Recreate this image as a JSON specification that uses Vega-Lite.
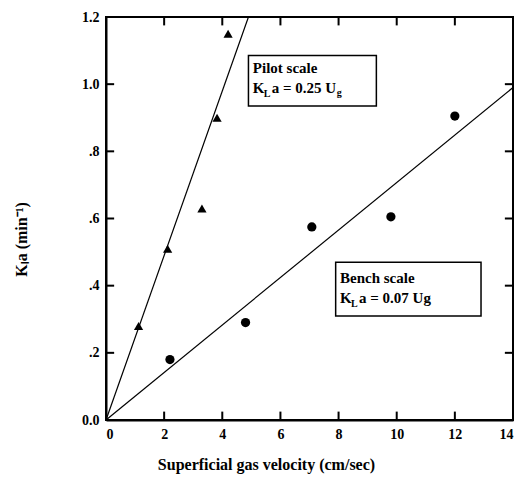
{
  "$schema": "https://vega.github.io/schema/vega-lite/v6.json",
  "width": 407,
  "height": 403,
  "autosize": "none",
  "padding": {"left": 106, "top": 17, "right": 10, "bottom": 57},
  "config": {
    "font": "Liberation Serif",
    "view": {"stroke": "black", "strokeWidth": 2},
    "axis": {
      "labelColor": "black", "labelFont": "Liberation Serif", "labelFontWeight": "bold", "labelFontSize": 14,
      "titleColor": "black", "titleFont": "Liberation Serif", "titleFontWeight": "bold", "titleFontSize": 16,
      "grid": false
    }
  },
  "datasets": {
    "fits": [
      {"series": "Pilot", "x": 0, "y": 0},
      {"series": "Pilot", "x": 4.9, "y": 1.2},
      {"series": "Bench", "x": 0, "y": 0},
      {"series": "Bench", "x": 14, "y": 0.99}
    ],
    "obs": [
      {"series": "Pilot", "x": 1.12, "y": 0.28},
      {"series": "Pilot", "x": 2.12, "y": 0.51},
      {"series": "Pilot", "x": 3.3, "y": 0.63},
      {"series": "Pilot", "x": 3.82, "y": 0.9},
      {"series": "Pilot", "x": 4.2, "y": 1.15},
      {"series": "Bench", "x": 2.2, "y": 0.18},
      {"series": "Bench", "x": 4.8, "y": 0.29},
      {"series": "Bench", "x": 7.08, "y": 0.575},
      {"series": "Bench", "x": 9.8, "y": 0.605},
      {"series": "Bench", "x": 12.0, "y": 0.905}
    ],
    "boxes": [
      {"name": "Pilot", "x": 4.9, "x2": 9.3, "y": 0.935, "y2": 1.085},
      {"name": "Bench", "x": 7.9, "x2": 12.9, "y": 0.31, "y2": 0.47}
    ],
    "lines1": [
      {"x": 5.05, "y": 1.033, "t": "Pilot scale"},
      {"x": 8.05, "y": 0.408, "t": "Bench scale"}
    ],
    "lineK": [
      {"x": 5.05, "y": 0.974, "t": "K"},
      {"x": 8.05, "y": 0.349, "t": "K"}
    ],
    "lineRest": [
      {"x": 5.05, "y": 0.974, "t": "a = 0.25 U"},
      {"x": 8.05, "y": 0.349, "t": "a = 0.07 Ug"}
    ],
    "subL": [
      {"x": 5.05, "y": 0.974, "t": "L"},
      {"x": 8.05, "y": 0.349, "t": "L"}
    ],
    "subG": [
      {"x": 5.05, "y": 0.974, "t": "g"}
    ],
    "xTicksBottom": [
      {"v": 2, "a": 0, "b": 0.025}, {"v": 4, "a": 0, "b": 0.025}, {"v": 6, "a": 0, "b": 0.025},
      {"v": 8, "a": 0, "b": 0.025}, {"v": 10, "a": 0, "b": 0.025}, {"v": 12, "a": 0, "b": 0.025}
    ],
    "xTicksTop": [
      {"v": 2, "a": 1.2, "b": 1.175}, {"v": 4, "a": 1.2, "b": 1.175}, {"v": 6, "a": 1.2, "b": 1.175},
      {"v": 8, "a": 1.2, "b": 1.175}, {"v": 10, "a": 1.2, "b": 1.175}, {"v": 12, "a": 1.2, "b": 1.175}
    ],
    "yTicksLeft": [
      {"v": 0.2, "a": 0, "b": 0.28}, {"v": 0.4, "a": 0, "b": 0.28}, {"v": 0.6, "a": 0, "b": 0.28},
      {"v": 0.8, "a": 0, "b": 0.28}, {"v": 1.0, "a": 0, "b": 0.28}
    ],
    "yTicksRight": [
      {"v": 0.2, "a": 14, "b": 13.72}, {"v": 0.4, "a": 14, "b": 13.72}, {"v": 0.6, "a": 14, "b": 13.72},
      {"v": 0.8, "a": 14, "b": 13.72}, {"v": 1.0, "a": 14, "b": 13.72}
    ]
  },
  "resolve": {"axis": {"x": "independent", "y": "independent"}},
  "layer": [
    {
      "data": {"name": "fits"},
      "mark": {"type": "line", "color": "black", "strokeWidth": 1.2},
      "encoding": {
        "x": {"field": "x", "type": "quantitative", "scale": {"domain": [0, 14], "nice": false},
              "axis": {"orient": "bottom", "values": [0, 2, 4, 6, 8, 10, 12, 14], "ticks": false, "domainColor": "black", "domainWidth": 2, "labelPadding": 7,
                       "title": "Superficial gas velocity (cm/sec)", "titlePadding": 15, "titleX": 160, "titleAlign": "center", "titleAnchor": "start"}},
        "y": {"field": "y", "type": "quantitative", "scale": {"domain": [0, 1.2], "nice": false},
              "axis": {"orient": "left", "values": [0, 0.2, 0.4, 0.6, 0.8, 1.0, 1.2], "ticks": false, "domainColor": "black", "domainWidth": 2, "labelPadding": 7,
                       "labelExpr": "datum.value == 0 ? '0.0' : (datum.value >= 1 ? format(datum.value, '.1f') : replace(format(datum.value, '.1f'), '0.', '.'))",
                       "title": "Kₗa (min⁻¹)", "titlePadding": 52, "titleY": 222}},
        "detail": {"field": "series"}
      }
    },
    {
      "data": {"name": "xTicksBottom"},
      "mark": {"type": "rule", "color": "black", "strokeWidth": 2},
      "encoding": {
        "x": {"field": "v", "type": "quantitative", "axis": null},
        "y": {"field": "a", "type": "quantitative", "axis": null},
        "y2": {"field": "b"}
      }
    },
    {
      "data": {"name": "xTicksTop"},
      "mark": {"type": "rule", "color": "black", "strokeWidth": 2},
      "encoding": {
        "x": {"field": "v", "type": "quantitative", "axis": null},
        "y": {"field": "a", "type": "quantitative", "axis": null},
        "y2": {"field": "b"}
      }
    },
    {
      "data": {"name": "yTicksLeft"},
      "mark": {"type": "rule", "color": "black", "strokeWidth": 2},
      "encoding": {
        "y": {"field": "v", "type": "quantitative", "axis": null},
        "x": {"field": "a", "type": "quantitative", "axis": null},
        "x2": {"field": "b"}
      }
    },
    {
      "data": {"name": "yTicksRight"},
      "mark": {"type": "rule", "color": "black", "strokeWidth": 2},
      "encoding": {
        "y": {"field": "v", "type": "quantitative", "axis": null},
        "x": {"field": "a", "type": "quantitative", "axis": null},
        "x2": {"field": "b"}
      }
    },
    {
      "data": {"name": "obs"},
      "mark": {"type": "point", "filled": true, "color": "black", "opacity": 1, "size": 85},
      "encoding": {
        "x": {"field": "x", "type": "quantitative", "axis": null},
        "y": {"field": "y", "type": "quantitative", "axis": null},
        "shape": {"field": "series", "type": "nominal", "scale": {"domain": ["Pilot", "Bench"], "range": ["triangle-up", "circle"]}, "legend": null}
      }
    },
    {
      "data": {"name": "boxes"},
      "mark": {"type": "rect", "fill": "white", "stroke": "black", "strokeWidth": 1.5},
      "encoding": {
        "x": {"field": "x", "type": "quantitative", "axis": null},
        "x2": {"field": "x2"},
        "y": {"field": "y", "type": "quantitative", "axis": null},
        "y2": {"field": "y2"}
      }
    },
    {
      "data": {"name": "lines1"},
      "mark": {"type": "text", "align": "left", "baseline": "alphabetic", "fontSize": 15, "fontWeight": "bold", "color": "black", "font": "Liberation Serif"},
      "encoding": {
        "x": {"field": "x", "type": "quantitative", "axis": null},
        "y": {"field": "y", "type": "quantitative", "axis": null},
        "text": {"field": "t"}
      }
    },
    {
      "data": {"name": "lineK"},
      "mark": {"type": "text", "align": "left", "baseline": "alphabetic", "fontSize": 15, "fontWeight": "bold", "color": "black", "font": "Liberation Serif"},
      "encoding": {
        "x": {"field": "x", "type": "quantitative", "axis": null},
        "y": {"field": "y", "type": "quantitative", "axis": null},
        "text": {"field": "t"}
      }
    },
    {
      "data": {"name": "lineRest"},
      "mark": {"type": "text", "align": "left", "baseline": "alphabetic", "fontSize": 15, "fontWeight": "bold", "color": "black", "font": "Liberation Serif", "dx": 19},
      "encoding": {
        "x": {"field": "x", "type": "quantitative", "axis": null},
        "y": {"field": "y", "type": "quantitative", "axis": null},
        "text": {"field": "t"}
      }
    },
    {
      "data": {"name": "subL"},
      "mark": {"type": "text", "align": "left", "baseline": "alphabetic", "fontSize": 10, "fontWeight": "bold", "color": "black", "font": "Liberation Serif", "dx": 11, "dy": 4},
      "encoding": {
        "x": {"field": "x", "type": "quantitative", "axis": null},
        "y": {"field": "y", "type": "quantitative", "axis": null},
        "text": {"field": "t"}
      }
    },
    {
      "data": {"name": "subG"},
      "mark": {"type": "text", "align": "left", "baseline": "alphabetic", "fontSize": 10, "fontWeight": "bold", "color": "black", "font": "Liberation Serif", "dx": 84, "dy": 3},
      "encoding": {
        "x": {"field": "x", "type": "quantitative", "axis": null},
        "y": {"field": "y", "type": "quantitative", "axis": null},
        "text": {"field": "t"}
      }
    }
  ]
}
